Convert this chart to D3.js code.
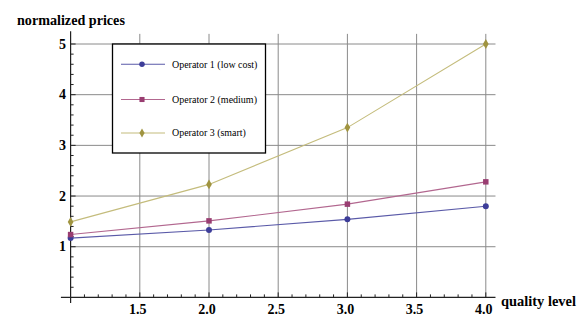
<!DOCTYPE html>
<html><head><meta charset="utf-8">
<script src="https://cdn.jsdelivr.net/npm/d3@7"></script>
<style>
body{margin:0;background:#fff;}
svg{display:block;}
</style></head>
<body><svg id="c" width="581" height="336" font-family="'Liberation Serif', 'DejaVu Serif', serif"></svg>
<script>
const quality = [1, 2, 3, 4];
const op1 = [1.17, 1.33, 1.54, 1.80];
const op2 = [1.24, 1.51, 1.84, 2.28];
const op3 = [1.49, 2.23, 3.35, 5.00];
const seriesNames = ["Operator 1 (low cost)", "Operator 2 (medium)", "Operator 3 (smart)"];
const xTicks = [1.5, 2.0, 2.5, 3.0, 3.5, 4.0];
const yTicks = [1, 2, 3, 4, 5];

const FONT = "Liberation Serif";
const colors = ["#3d3d99", "#993d71", "#a09440"];
const lineColors = ["#5a5aa8", "#b2678f", "#c4bc7c"];
const shapes = [d3.symbolCircle, d3.symbolSquare, d3.symbolDiamond];
const series = [op1, op2, op3];

// scale font size so that the rendered text has the target width
function fitWidth(sel, target) {
  sel.each(function() {
    const fs = parseFloat(this.getAttribute("font-size"));
    const w = this.getComputedTextLength();
    if (w > 0) this.setAttribute("font-size", (fs * target / w).toFixed(2));
  });
}

const svg = d3.select("#c");
const x = d3.scaleLinear().domain([1, 4]).range([70.6, 485.8]);
const y = d3.scaleLinear().domain([0, 5]).range([297.4, 44]);

// grid
const g = svg.append("g");
g.selectAll(".hg").data(yTicks).join("line")
  .attr("x1", x(1)).attr("x2", x(4.07))
  .attr("y1", d => y(d)).attr("y2", d => y(d))
  .attr("stroke", "#8a8a8a").attr("stroke-width", 1);
g.selectAll(".vg").data(xTicks).join("line")
  .attr("x1", d => x(d)).attr("x2", d => x(d))
  .attr("y1", y(5.2)).attr("y2", y(0))
  .attr("stroke", "#8a8a8a").attr("stroke-width", 1);

// axes
svg.append("line").attr("x1", x(0.93)).attr("x2", x(4.07)).attr("y1", y(0)).attr("y2", y(0))
  .attr("stroke", "#222").attr("stroke-width", 1.2);
svg.append("line").attr("x1", x(1)).attr("x2", x(1)).attr("y1", y(5.25)).attr("y2", y(-0.11))
  .attr("stroke", "#222").attr("stroke-width", 1.2);

// x ticks
const xMinor = d3.range(11, 41).map(v => v / 10);
svg.selectAll(".xt").data(xMinor).join("line")
  .attr("x1", d => x(d)).attr("x2", d => x(d))
  .attr("y1", y(0)).attr("y2", d => y(0) - (Math.abs(d * 2 - Math.round(d * 2)) < 1e-6 ? 5 : 3))
  .attr("stroke", "#222").attr("stroke-width", 1);
// y ticks
const yMinor = d3.range(1, 26).map(v => v / 5);
svg.selectAll(".yt").data(yMinor).join("line")
  .attr("x1", x(1)).attr("x2", d => x(1) + (Math.abs(d - Math.round(d)) < 1e-6 ? 5 : 3))
  .attr("y1", d => y(d)).attr("y2", d => y(d))
  .attr("stroke", "#222").attr("stroke-width", 1);

// tick labels
svg.selectAll(".xl").data(xTicks).join("text")
  .attr("font-family", FONT)
  .attr("x", d => x(d) - 2).attr("y", 314)
  .attr("text-anchor", "middle").attr("font-weight", "bold").attr("font-size", 14)
  .text(d => d.toFixed(1));
svg.selectAll(".yl").data(yTicks).join("text")
  .attr("font-family", FONT)
  .attr("x", 66).attr("y", d => y(d) + 4.5)
  .attr("text-anchor", "end").attr("font-weight", "bold").attr("font-size", 14)
  .text(d => d);

// axis titles
const t1 = svg.append("text").attr("font-family", FONT).attr("x", 17).attr("y", 25)
  .attr("font-weight", "bold").attr("font-size", 15).text("normalized prices");
fitWidth(t1, 108);
const t2 = svg.append("text").attr("font-family", FONT).attr("x", 501).attr("y", 306)
  .attr("font-weight", "bold").attr("font-size", 14).text("quality level");
fitWidth(t2, 75);

// lines & markers
const line = d3.line().x((d, i) => x(quality[i])).y(d => y(d));
series.forEach((s, k) => {
  svg.append("path").datum(s).attr("d", line).attr("fill", "none")
    .attr("stroke", lineColors[k]).attr("stroke-width", 1.1);
  svg.selectAll(".m" + k).data(s).join("path")
    .attr("transform", (d, i) => `translate(${x(quality[i])},${y(d)})`)
    .attr("d", d3.symbol().type(shapes[k]).size(k === 1 ? 30 : 28))
    .attr("fill", colors[k]);
});

// legend
const legendWidths = [85.5, 85, 74];
const lg = svg.append("g");
lg.append("rect").attr("x", 112.5).attr("y", 44).attr("width", 153).attr("height", 109)
  .attr("fill", "#fff").attr("stroke", "#000").attr("stroke-width", 1.3);
const rowsY = [64.3, 99.5, 133];
seriesNames.forEach((n, k) => {
  lg.append("line").attr("x1", 121).attr("x2", 165).attr("y1", rowsY[k]).attr("y2", rowsY[k])
    .attr("stroke", lineColors[k]).attr("stroke-width", 1.1);
  lg.append("path").attr("transform", `translate(142,${rowsY[k]})`)
    .attr("d", d3.symbol().type(shapes[k]).size(k === 1 ? 26 : 24)).attr("fill", colors[k]);
  const t = lg.append("text").attr("font-family", FONT).attr("x", 172).attr("y", rowsY[k] + 3.3)
    .attr("font-size", 10).text(n);
  fitWidth(t, legendWidths[k]);
});
</script></body></html>
